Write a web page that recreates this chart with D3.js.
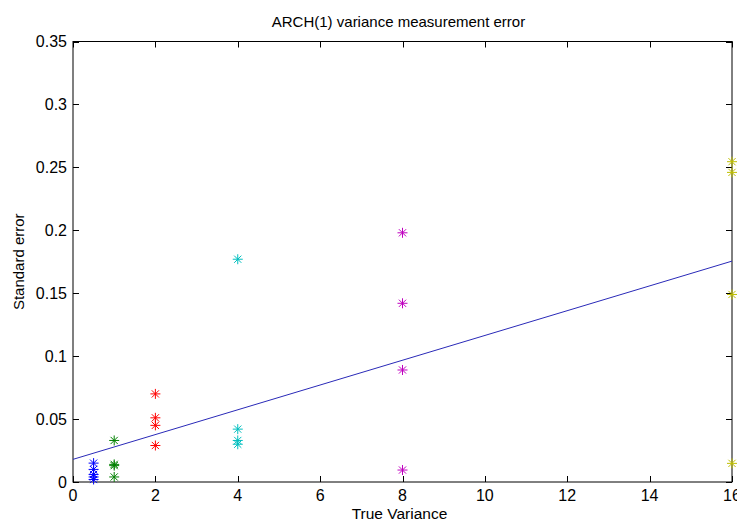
<!DOCTYPE html>
<html>
<head>
<meta charset="utf-8">
<script src="https://cdn.jsdelivr.net/npm/d3@7"></script>
<style>
  body { margin: 0; background: #fff; }
  svg { display: block; font-family: "Liberation Sans", Arial, sans-serif; }
  .tick-label { font-size: 16px; fill: #000; }
</style>
</head>
<body>
<svg id="chart" width="737" height="525"></svg>
<script>
// true variance groups and their measured standard errors
var groupX = [0.5, 1, 2, 4, 8, 16];
var groupColors = ["#0000ff", "#008000", "#ff0000", "#00bfbf", "#bf00bf", "#bfbf00"];
var seBlue    = [0.015, 0.010, 0.006, 0.004, 0.002];
var seGreen   = [0.033, 0.014, 0.013, 0.004];
var seRed     = [0.070, 0.051, 0.045, 0.029];
var seCyan    = [0.177, 0.042, 0.033, 0.030];
var seMagenta = [0.198, 0.142, 0.089, 0.0095];
var seYellow  = [0.2545, 0.246, 0.149, 0.0148];
var groupSE = [seBlue, seGreen, seRed, seCyan, seMagenta, seYellow];

// fitted line endpoints
var fitX = [0, 16];
var fitY = [0.018, 0.1755];

var xTicks = [0, 2, 4, 6, 8, 10, 12, 14, 16];
var yTicks = [0, 0.05, 0.1, 0.15, 0.2, 0.25, 0.3, 0.35];

(function() {
  var svg = d3.select("#chart"),
      left = 73, right = 732, top = 41.5, bottom = 482,
      tickLen = 6;

  var x = d3.scaleLinear().domain([0, 16]).range([left, right]);
  var y = d3.scaleLinear().domain([0, 0.35]).range([bottom, top]);

  // axes box
  svg.append("rect")
    .attr("x", left).attr("y", top)
    .attr("width", right - left).attr("height", bottom - top)
    .attr("fill", "none").attr("stroke", "#000").attr("stroke-width", 1);

  // x ticks (bottom + top, inward)
  var xt = svg.append("g");
  xTicks.forEach(function(t) {
    var px = Math.round(x(t)) + 0.5;
    xt.append("line").attr("x1", px).attr("x2", px)
      .attr("y1", bottom).attr("y2", bottom - tickLen).attr("stroke", "#000");
    xt.append("line").attr("x1", px).attr("x2", px)
      .attr("y1", top).attr("y2", top + tickLen).attr("stroke", "#000");
    xt.append("text").attr("class", "tick-label")
      .attr("x", x(t)).attr("y", 501)
      .attr("text-anchor", "middle")
      .text(d3.format("")(t));
  });

  // y ticks (left + right, inward)
  var yt = svg.append("g");
  yTicks.forEach(function(t) {
    var py = Math.round(y(t)) + 0.5;
    yt.append("line").attr("x1", left).attr("x2", left + tickLen)
      .attr("y1", py).attr("y2", py).attr("stroke", "#000");
    yt.append("line").attr("x1", right).attr("x2", right - tickLen)
      .attr("y1", py).attr("y2", py).attr("stroke", "#000");
    yt.append("text").attr("class", "tick-label")
      .attr("x", left - 6).attr("y", y(t))
      .attr("dy", "0.36em")
      .attr("text-anchor", "end")
      .text(t === 0 ? "0" : d3.format("")(+t.toFixed(2)));
  });

  // fitted line
  var line = d3.line()
    .x(function(d) { return x(d[0]); })
    .y(function(d) { return y(d[1]); });
  svg.append("path")
    .datum(d3.zip(fitX, fitY))
    .attr("d", line)
    .attr("fill", "none")
    .attr("stroke", "#2a2ab8")
    .attr("stroke-width", 1);

  // asterisk markers
  var r = 5, rd = 3.6;
  var star = "M" + (-r) + ",0L" + r + ",0M0," + (-r) + "L0," + r +
             "M" + (-rd) + "," + (-rd) + "L" + rd + "," + rd +
             "M" + (-rd) + "," + rd + "L" + rd + "," + (-rd);

  groupX.forEach(function(gx, i) {
    svg.append("g").selectAll("path")
      .data(groupSE[i])
      .enter().append("path")
      .attr("transform", function(d) { return "translate(" + x(gx) + "," + y(d) + ")"; })
      .attr("d", star)
      .attr("fill", "none")
      .attr("stroke", groupColors[i])
      .attr("stroke-width", 1);
  });

  // title and axis labels
  svg.append("text")
    .attr("x", (left + right) / 2 - 4).attr("y", 27)
    .attr("text-anchor", "middle")
    .style("font-size", "15px")
    .text("ARCH(1) variance measurement error");

  svg.append("text")
    .attr("x", (left + right) / 2 - 3).attr("y", 519)
    .attr("text-anchor", "middle")
    .style("font-size", "15.5px")
    .text("True Variance");

  svg.append("text")
    .attr("transform", "translate(24," + ((top + bottom) / 2) + ") rotate(-90)")
    .attr("text-anchor", "middle")
    .style("font-size", "15px")
    .text("Standard error");
})();
</script>
</body>
</html>
